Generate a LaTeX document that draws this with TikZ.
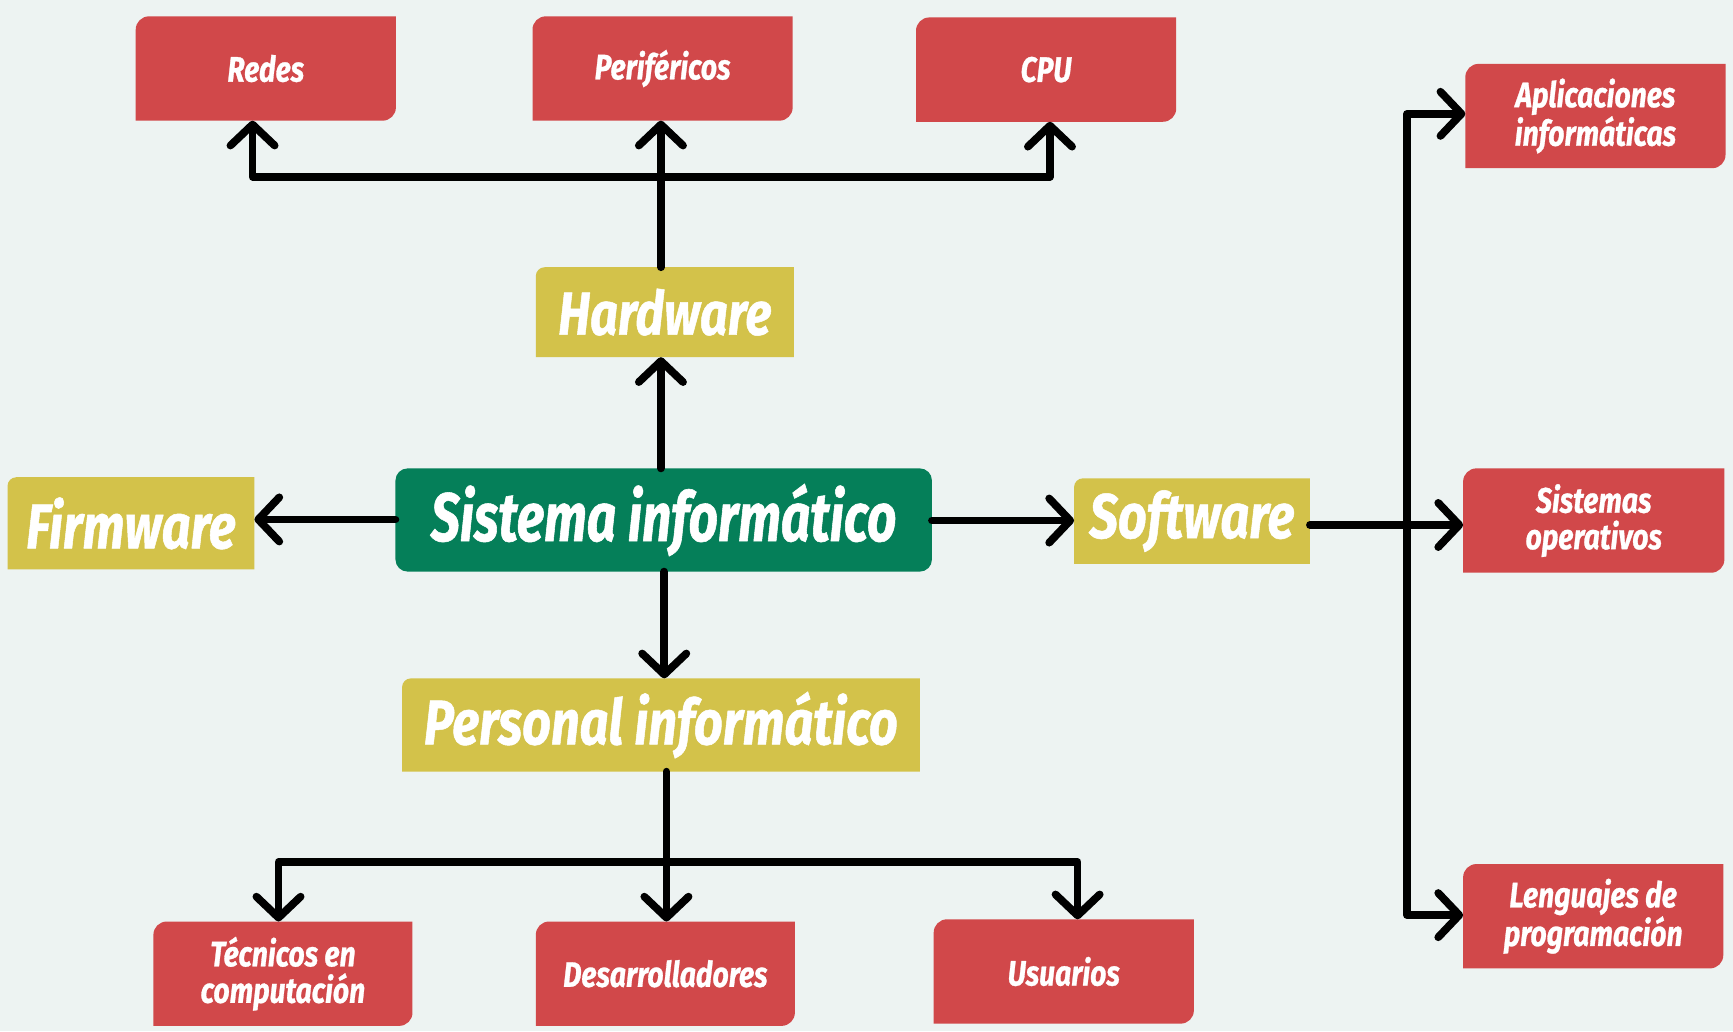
\documentclass[tikz,border=0pt]{standalone}
\usepackage{fontspec}
\setmainfont{Fira Sans}[FakeStretch=0.8, BoldItalicFeatures={FakeBold=0.8}]
\newfontfamily\titlefont{Fira Sans}[FakeStretch=0.75, BoldItalicFeatures={FakeBold=0.8}]
\usetikzlibrary{arrows.meta,calc}
\definecolor{bgc}{HTML}{EDF3F2}
\definecolor{redc}{HTML}{D1484A}
\definecolor{yelc}{HTML}{D3C24A}
\definecolor{grnc}{HTML}{057F59}
\pgfdeclarelayer{bg}
\pgfsetlayers{bg,main}
% red card: rounded top-left and bottom-right corners
\newcommand\fillredcard[1]{%
  \fill[redc] ($(#1.north west)+(0,-12pt)$) arc[start angle=180,end angle=90,radius=12pt]
    -- (#1.north east) -- ($(#1.south east)+(0,12pt)$)
    arc[start angle=0,end angle=-90,radius=12pt] -- (#1.south west) -- cycle;}
% yellow label: rounded top-left corner only
\newcommand\fillyelcard[1]{%
  \fill[yelc] ($(#1.north west)+(0,-8pt)$) arc[start angle=180,end angle=90,radius=8pt]
    -- (#1.north east) -- (#1.south east) -- (#1.south west) -- cycle;}
\tikzset{
  card/.style={inner sep=0pt, align=center, text=white,
    font=\bfseries\itshape\fontsize{32}{33}\selectfont},
  redcard/.style={card, minimum width=235pt, minimum height=94pt},
  yelcard/.style={card, font=\bfseries\itshape\fontsize{57}{60}\selectfont},
  arr/.style={line width=7pt, line join=round, line cap=round,
    -{Straight Barb[length=19pt,width=40pt,round]}},
}
\begin{document}
\begin{tikzpicture}[x=1pt,y=1pt]
\useasboundingbox (0,0) rectangle (1568,933);

% central topic
\node[card, minimum width=485pt, minimum height=93pt,
  font=\titlefont\bfseries\itshape\fontsize{62}{66}\selectfont] (sys) at (600.5,462.5) {Sistema informático};

% second level
\node[yelcard, minimum width=233pt, minimum height=81pt,
  font=\bfseries\itshape\fontsize{55}{58}\selectfont] (hw) at (601.5,650.5) {Hardware};
\node[yelcard, minimum width=223pt, minimum height=83pt] (fw) at (118.5,459.5) {Firmware};
\node[yelcard, minimum width=213pt, minimum height=77pt] (sw) at (1078.5,461.5) {Software};
\node[yelcard, minimum width=468pt, minimum height=84pt] (pers) at (598,277) {Personal informático};

% leaves
\node[redcard] (redes) at (240.5,871) {Redes};
\node[redcard] (peri) at (599.5,871) {Periféricos};
\node[redcard] (cpu) at (946.5,870) {CPU};
\node[redcard] (apl) at (1443.5,828) {Aplicaciones\\informáticas};
\node[redcard, minimum width=236pt] (so) at (1442,462) {Sistemas\\operativos};
\node[redcard] (len) at (1441.5,104) {Lenguajes de\\programación};
\node[redcard, minimum width=234pt] (tec) at (256,52) {Técnicos en\\computación};
\node[redcard, minimum width=234pt] (des) at (602,52) {Desarrolladores};
\node[redcard] (usu) at (962.5,54) {Usuarios};

\begin{pgfonlayer}{bg}
  \fill[bgc] (0,0) rectangle (1568,933);
  \fill[grnc, rounded corners=11pt] (sys.south west) rectangle (sys.north east);
  \foreach \n in {hw,fw,sw,pers} {\fillyelcard{\n}}
  \foreach \n in {redes,peri,cpu,apl,so,len,tec,des,usu} {\fillredcard{\n}}
\end{pgfonlayer}

% junction points of the branching connectors
\coordinate (jhw) at (598,773);
\coordinate (jpers) at (603,153);
\coordinate (jsw) at (1273,458);

% hardware branch
\draw[arr] (sys.north -| jhw) -- (hw.south -| jhw);
\draw[arr] (hw.north -| jhw) -- (peri.south -| jhw);
\draw[arr] (jhw) -| ([xshift=-12pt]redes.south);
\draw[arr] (jhw) -| ([xshift=3.5pt]cpu.south);

% firmware and software
\draw[arr] (sys.west |- 0,463) -- (fw.east |- 0,463);
\draw[arr] (sys.east |- 0,462) -- (sw.west |- 0,462);
\draw[arr] (sw.east |- jsw) -- (so.west |- jsw);
\draw[arr] (jsw) |- ([yshift=2pt]apl.west);
\draw[arr] (jsw) |- ([yshift=1pt]len.west);

% personnel branch
\draw[arr] (sys.south -| 601,0) -- (pers.north -| 601,0);
\draw[arr] (pers.south -| jpers) -- (des.north -| jpers);
\draw[arr] (jpers) -| ([xshift=-4pt]tec.north);
\draw[arr] (jpers) -| ([xshift=12.5pt]usu.north);
\end{tikzpicture}
\end{document}
